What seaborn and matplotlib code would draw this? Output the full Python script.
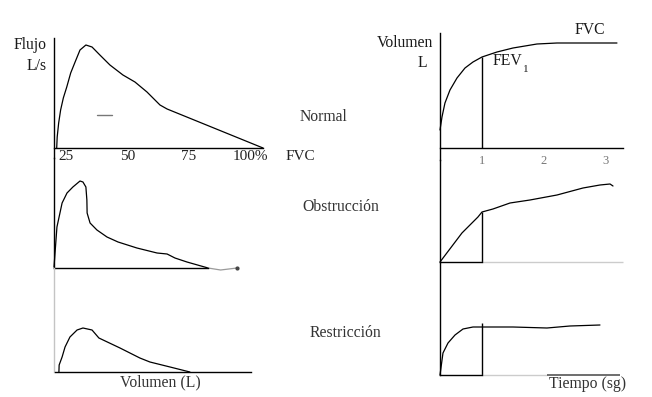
import matplotlib
matplotlib.use("Agg")
import matplotlib.pyplot as plt
import seaborn as sns

sns.set_theme(style="white")
plt.rcParams["font.family"] = ["Liberation Serif", "DejaVu Serif"]

# ---- flow-volume curves (x: % of FVC, y: flow L/s) ----
normal_vol = [21.2, 21.4, 22.0, 22.8, 23.9, 25.3, 26.9, 28.7, 30.7, 33.1, 35.6,
              38.8, 42.9, 48.2, 53.1, 58.0, 63.3, 66.2, 105.3]
normal_flow = [0.0, 1.1, 2.5, 3.8, 5.0, 6.1, 7.5, 8.6, 9.8, 10.3, 10.1,
               9.3, 8.3, 7.3, 6.6, 5.6, 4.3, 3.9, 0.0]

obstr_vol = [20.1, 21.3, 23.4, 25.4, 27.8, 30.7, 31.9, 33.1, 33.5, 33.6, 34.8,
             37.6, 41.7, 46.2, 53.9, 62.1, 66.2, 69.4, 74.3, 82.9]
obstr_flow = [0.1, 4.1, 6.5, 7.5, 8.1, 8.7, 8.6, 8.1, 6.8, 5.5, 4.5,
              3.8, 3.1, 2.6, 2.0, 1.5, 1.4, 1.0, 0.6, 0.0]

restr_vol = [22.1, 22.2, 23.4, 24.6, 26.6, 29.5, 31.9, 35.6, 38.4, 47.0, 55.1,
             59.2, 67.4, 75.5]
restr_flow = [0.0, 0.7, 1.5, 2.5, 3.5, 4.2, 4.4, 4.2, 3.4, 2.4, 1.4,
              1.0, 0.5, 0.0]

flow_ticks = [25, 50, 75, 100, 120.5]
flow_ticklabels = ["25", "50", "75", "100%", "FVC"]

# ---- volume-time curves (x: seconds, y: volume L) ----
vt_normal_t = [0.323, 0.355, 0.403, 0.484, 0.597, 0.726, 0.855, 1.0, 1.242,
               1.5, 1.887, 2.21, 3.177]
vt_normal_v = [0.9, 1.55, 2.25, 2.9, 3.5, 4.0, 4.3, 4.55, 4.8,
               5.0, 5.2, 5.25, 5.25]

vt_obstr_t = [0.323, 0.677, 0.935, 1.0, 1.177, 1.452, 1.774, 2.21, 2.629,
              2.903, 3.065, 3.113]
vt_obstr_v = [0.0, 1.45, 2.25, 2.5, 2.65, 2.95, 3.1, 3.35, 3.7,
              3.85, 3.9, 3.8]

vt_restr_t = [0.323, 0.371, 0.452, 0.565, 0.694, 0.855, 1.0, 1.5, 2.048,
              2.419, 2.903]
vt_restr_v = [0.0, 1.1, 1.6, 2.0, 2.3, 2.4, 2.4, 2.4, 2.35,
              2.45, 2.5]

fev1_time = 1.0
fev1_heights = [4.55, 2.5, 2.6]
time_ticks = [1, 2, 3]
time_ticklabels = ["1", "2", "3"]

W, H = 652, 397
fig = plt.figure(figsize=(W / 100, H / 100), dpi=100)
fig.patch.set_facecolor("white")


def add_ax(x0, x1, ytop, ybot):
    ax = fig.add_axes([x0 / W, 1 - ybot / H, (x1 - x0) / W, (ybot - ytop) / H])
    ax.set_facecolor("none")
    for s in ("top", "right"):
        ax.spines[s].set_visible(False)
    for s in ("left", "bottom"):
        ax.spines[s].set_color("black")
        ax.spines[s].set_linewidth(1.0)
    ax.set_yticks([])
    ax.set_xticks([])
    ax.set_xlabel("")
    ax.set_ylabel("")
    return ax


def curve(ax, x, y, color="black", lw=0.9):
    sns.lineplot(x=x, y=y, ax=ax, estimator=None, sort=False,
                 color=color, linewidth=lw, clip_on=False)
    ax.set_xlabel("")
    ax.set_ylabel("")


LEFT_XLIM = (20.1, 132.6)
RIGHT_XLIM = (0.323, 3.742)

# ---------------- left column: flow-volume ----------------
ax_n = add_ax(54, 330, 38, 158)
curve(ax_n, normal_vol, normal_flow)
curve(ax_n, [37.6, 43.7], [3.3, 3.3], color="#777777", lw=1.0)
ax_n.set_xlim(*LEFT_XLIM)
ax_n.set_ylim(-1.0, 11.0)
ax_n.spines["bottom"].set_position(("data", 0))
ax_n.spines["bottom"].set_bounds(20.1, 105.3)
ax_n.set_xticks(flow_ticks)
ax_n.set_xticklabels(flow_ticklabels)
ax_n.tick_params(axis="x", length=0, pad=1.5, labelsize=11, labelcolor="#222222")

ax_o = add_ax(54, 330, 158, 268)
curve(ax_o, obstr_vol, obstr_flow)
curve(ax_o, [82.9, 88.0, 94.7], [0.0, -0.2, 0.0], color="#9a9a9a", lw=0.9)
ax_o.scatter([94.7], [0.0], s=4, color="#444444", clip_on=False, zorder=3)
ax_o.set_xlim(*LEFT_XLIM)
ax_o.set_ylim(0, 11.0)
ax_o.spines["bottom"].set_bounds(20.1, 82.9)

ax_r = add_ax(54, 330, 268, 372)
curve(ax_r, restr_vol, restr_flow)
ax_r.set_xlim(*LEFT_XLIM)
ax_r.set_ylim(0, 10.4)
ax_r.spines["bottom"].set_bounds(20.5, 100.4)
ax_r.spines["left"].set_color("#c4c4c4")

# ---------------- right column: volume-time ----------------
ax_vn = add_ax(440, 652, 33, 160)
curve(ax_vn, vt_normal_t, vt_normal_v)
ax_vn.vlines(fev1_time, 0, fev1_heights[0], color="black", lw=1.0)
ax_vn.set_xlim(*RIGHT_XLIM)
ax_vn.set_ylim(-0.6, 5.75)
ax_vn.spines["bottom"].set_position(("data", 0))
ax_vn.spines["bottom"].set_bounds(0.323, 3.274)
ax_vn.set_xticks(time_ticks)
ax_vn.set_xticklabels(time_ticklabels)
ax_vn.tick_params(axis="x", length=0, pad=5, labelsize=9, labelcolor="#777777")

ax_vo = add_ax(440, 652, 160, 262)
curve(ax_vo, vt_obstr_t, vt_obstr_v)
ax_vo.vlines(fev1_time, 0, fev1_heights[1], color="black", lw=1.0)
ax_vo.set_xlim(*RIGHT_XLIM)
ax_vo.set_ylim(0, 5.1)
ax_vo.spines["bottom"].set_bounds(0.323, 1.0)
ax_vo.hlines(0, 1.0, 3.274, color="#cccccc", lw=1.0, clip_on=False)

ax_vr = add_ax(440, 652, 262, 375)
curve(ax_vr, vt_restr_t, vt_restr_v)
ax_vr.vlines(fev1_time, 0, fev1_heights[2], color="black", lw=1.0)
ax_vr.set_xlim(*RIGHT_XLIM)
ax_vr.set_ylim(0, 5.65)
ax_vr.spines["bottom"].set_bounds(0.323, 1.0)
ax_vr.hlines(0, 1.0, 2.05, color="#cccccc", lw=1.0, clip_on=False)
ax_vr.hlines(0, 2.05, 3.226, color="#555555", lw=1.2, clip_on=False)


# ---------------- labels ----------------
def label(px, py, s, ha="center", size=11.3, color="#1a1a1a"):
    fig.text(px / W, 1 - py / H, s, ha=ha, va="center", fontsize=size, color=color)


label(47, 45, "Flujo", ha="right")
label(47, 66, "L/s", ha="right")
label(433, 43, "Volumen", ha="right")
label(427, 63, "L", ha="right")
label(493, 61, "FEV", ha="left")
label(523, 70, "1", ha="left", size=8)
label(590, 30, "FVC")
label(323, 117, "Normal", color="#333333")
label(341, 207, "Obstrucción", color="#333333")
label(345, 333, "Restricción", color="#333333")
label(160, 382, "Volumen (L)", color="#333333")
label(588, 384, "Tiempo (sg)", color="#333333")

fig.savefig("out.png", dpi=100, facecolor="white")
